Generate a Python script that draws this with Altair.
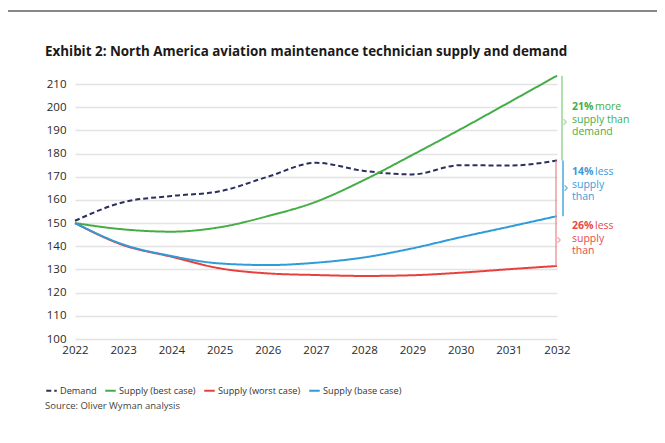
import altair as alt
import pandas as pd

years = [2022, 2023, 2024, 2025, 2026, 2027, 2028, 2029, 2030, 2031, 2032]
demand = [151, 159, 161.7, 163.7, 170, 176, 172.5, 171, 175, 174.8, 177]
supply_best = [150, 147.3, 146.3, 148.2, 153, 159.2, 168.6, 179.4, 190.5, 202, 213.6]
supply_worst = [150, 140.5, 135.5, 130.5, 128.3, 127.6, 127.2, 127.5, 128.6, 130.1, 131.5]
supply_base = [150, 140.8, 135.8, 132.6, 131.9, 132.9, 135.2, 139.1, 143.9, 148.4, 153]

series_names = ["Demand", "Supply (best case)", "Supply (worst case)", "Supply (base case)"]
series_colors = ["#2b2f5e", "#44ad47", "#e8403f", "#2f9bd8"]
series_dash = [[5, 3], [1, 0], [1, 0], [1, 0]]

y_ticks = [100, 110, 120, 130, 140, 150, 160, 170, 180, 190, 200, 210]

title_text = "Exhibit 2: North America aviation maintenance technician supply and demand"
source_text = "Source: Oliver Wyman analysis"

bracket_series = ["Supply (best case)", "Supply (base case)", "Supply (worst case)"]
bracket_colors = ["#86cf86", "#2f9bd8", "#f08c8c"]
bracket_offsets = [5, 6, -1]
bracket_notch = [193.6, 165.1, 142.7]

ann_bold = ["21%", "14%", "26%"]
ann_rest = [" more", " less", " less"]
ann_lines2 = [["supply than", "demand"], ["supply", "than"], ["supply", "than"]]
ann_y = [200.1, 172.2, 148.9]
ann_colors = ["#3fae49", "#3b9ad9", "#e84a4a"]

vals = {"Demand": demand, "Supply (best case)": supply_best,
        "Supply (worst case)": supply_worst, "Supply (base case)": supply_base}
rows = []
for name in series_names:
    for yr, v in zip(years, vals[name]):
        rows.append({"year": yr, "value": v, "series": name})
df = pd.DataFrame(rows)

xscale = alt.Scale(domain=[2022, 2032], nice=False, zero=False)
yscale = alt.Scale(domain=[100, 210], nice=False, zero=False)
x_axis = alt.Axis(values=years, format="d", title=None, grid=False, domain=False,
                  ticks=False, labelFontSize=11.5, labelColor="#2a2a2a",
                  labelPadding=5, labelFont="Open Sans", labelFlush=False,
                  labelOverlap=False)
y_axis = alt.Axis(values=y_ticks, title=None, grid=True, gridColor="#e3e3e3",
                  gridWidth=1.3, domain=False, ticks=False, labelFontSize=11.5,
                  labelColor="#2a2a2a", labelPadding=9, labelFont="Open Sans",
                  labelOverlap=False, labelFlush=False)


def xy(yfield="value"):
    return dict(x=alt.X("year:Q", scale=xscale, axis=x_axis),
                y=alt.Y(yfield + ":Q", scale=yscale, axis=y_axis))


legend = alt.Legend(
    title=None, orient="none", legendX=-30, legendY=300, direction="horizontal",
    symbolType="stroke", symbolSize=110, symbolStrokeWidth=2,
    labelFontSize=9.2, labelColor="#333333", labelOffset=2, columnPadding=4,
    labelFont="Open Sans",
)

lines = alt.Chart(df).mark_line(strokeWidth=2, interpolate="monotone", clip=False).encode(
    color=alt.Color("series:N", scale=alt.Scale(domain=series_names, range=series_colors),
                    legend=legend, sort=series_names),
    strokeDash=alt.StrokeDash("series:N", scale=alt.Scale(domain=series_names, range=series_dash),
                              legend=legend, sort=series_names),
    **xy(),
)

layers = [lines]
for s, c, off, nv in zip(bracket_series, bracket_colors, bracket_offsets, bracket_notch):
    bdf = pd.DataFrame([{"year": years[-1], "value": demand[-1], "y2": vals[s][-1], "notch": nv}])
    rule = alt.Chart(bdf).mark_rule(strokeWidth=1.3, color=c, xOffset=off).encode(
        y2="y2:Q", **xy())
    notch = alt.Chart(bdf).mark_point(shape="M0,-1L1,0L0,1", filled=False, size=30,
                                      strokeWidth=1.3, color=c, xOffset=off + 1.5).encode(
        **xy("notch"))
    layers += [rule, notch]

for b, rest, l2, yv, col in zip(ann_bold, ann_rest, ann_lines2, ann_y, ann_colors):
    adf = pd.DataFrame([{"year": years[-1], "value": yv, "b": b, "r": rest, "l": l2}])
    t1 = alt.Chart(adf).mark_text(align="left", baseline="middle", dx=15, fontSize=10.5,
                                  fontWeight="bold", color=col, font="Open Sans").encode(
        text="b:N", **xy())
    t2 = alt.Chart(adf).mark_text(align="left", baseline="middle", dx=38, fontSize=10.5,
                                  color=col, font="Open Sans").encode(text="r:N", **xy())
    t3 = alt.Chart(adf).mark_text(align="left", baseline="middle", dx=15, dy=13, fontSize=10.5,
                                  color=col, font="Open Sans", lineHeight=12.5).encode(
        text="l:N", **xy())
    layers += [t1, t2, t3]

tdf = pd.DataFrame([{"t": title_text, "s": source_text}])
title = alt.Chart(tdf).mark_text(align="left", baseline="middle", fontSize=13.4,
                                 fontWeight="bold", color="#1a1a1a", font="Open Sans").encode(
    x=alt.value(-30), y=alt.value(-32), text="t:N")
source = alt.Chart(tdf).mark_text(align="left", baseline="middle", fontSize=9.5,
                                  color="#444444", font="Open Sans").encode(
    x=alt.value(-30), y=alt.value(322), text="s:N")
frame_top = alt.Chart(tdf).mark_rule(color="#111111", strokeWidth=1.2).encode(
    x=alt.value(-70), x2=alt.value(590), y=alt.value(-73))
frame_left = alt.Chart(tdf).mark_rule(color="#111111", strokeWidth=1.2).encode(
    x=alt.value(-70), y=alt.value(-73), y2=alt.value(359))
layers += [title, source, frame_top, frame_left]

chart = alt.layer(*layers).properties(
    width=482, height=255,
    autosize=alt.AutoSizeParams(type="none"),
    padding={"left": 67, "top": 76, "right": 100, "bottom": 96},
).configure(font="Open Sans", background="white").configure_view(
    stroke="white", strokeWidth=0, strokeOpacity=0
).configure_axisX(grid=False)

chart.save("out.html", embed_options={"renderer": "svg", "actions": False})
